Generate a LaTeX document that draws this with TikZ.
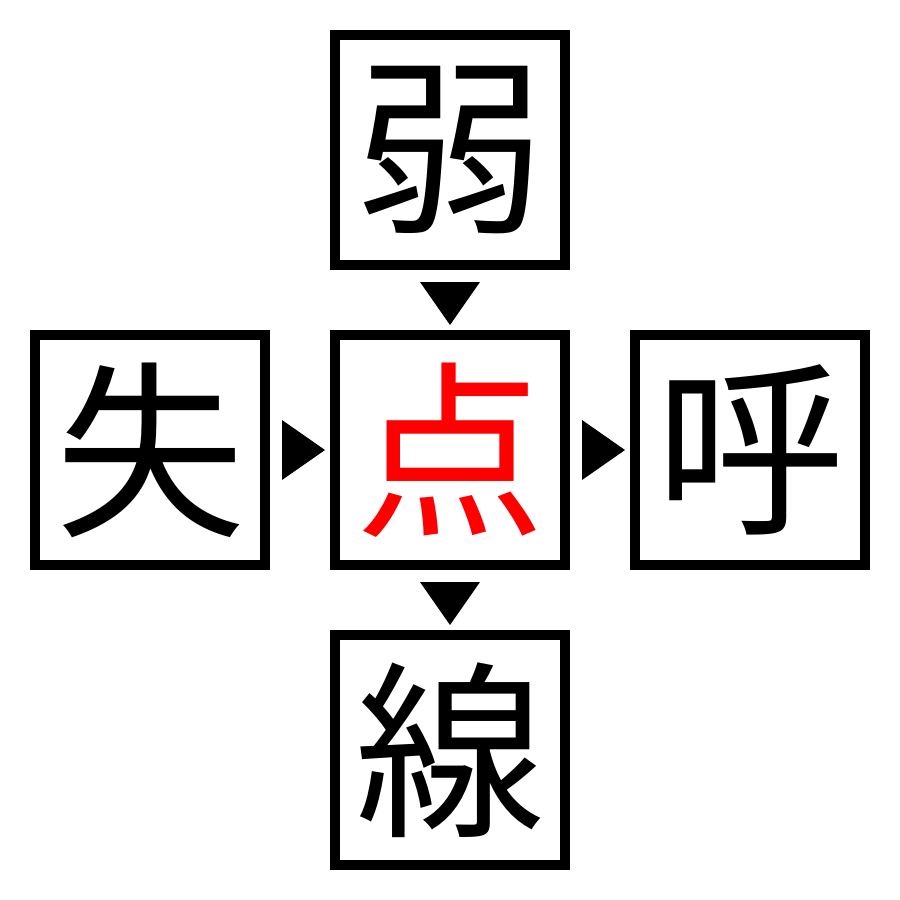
\documentclass[tikz,border=0pt]{standalone}
\usepackage{fontspec}
\newfontfamily\cjk{Noto Sans CJK JP}
\begin{document}
\begin{tikzpicture}[x=0.01cm,y=-0.01cm,
  kbox/.style={draw=black,line width=0.1cm,minimum size=2.3cm,inner sep=0pt,font=\cjk\fontsize{54pt}{54pt}\selectfont},
  tri/.style={fill=black}]
\useasboundingbox (0,0) rectangle (900,900);
\node[kbox] (top) at (450,150) {弱};
\node[kbox] (left) at (150,450) {失};
\node[kbox,text=red] (mid) at (450,450) {点};
\node[kbox] (right) at (750,450) {呼};
\node[kbox] (bot) at (450,750) {線};
\fill[tri] (420,282) -- (480,282) -- (450,325) -- cycle;
\fill[tri] (420,582) -- (480,582) -- (450,625) -- cycle;
\fill[tri] (282,420) -- (282,480) -- (325,450) -- cycle;
\fill[tri] (582,420) -- (582,480) -- (625,450) -- cycle;
\end{tikzpicture}
\end{document}
